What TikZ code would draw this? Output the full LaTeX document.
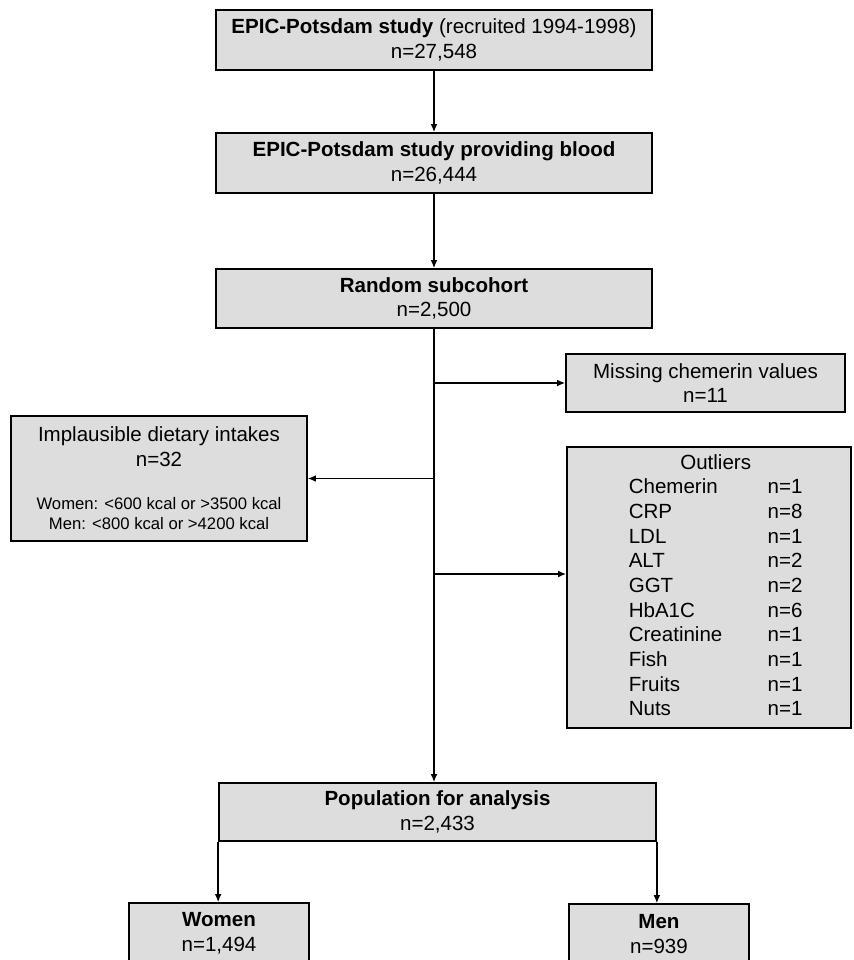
\documentclass[tikz,border=0pt]{standalone}
\usepackage{fontspec}
\setmainfont{Liberation Sans}
\usepackage{tikz}
\usetikzlibrary{arrows.meta,calc}
\definecolor{boxgray}{RGB}{221,221,221}
\tikzset{
    flowbox/.style args={#1/#2}{draw, line width=1.3pt, fill=boxgray, inner sep=0pt,
        minimum width=#1, minimum height=#2, align=center,
        font=\fontsize{15.4}{18.5}\selectfont},
    link/.style={->, line width=1pt}
}
\newcommand{\smalltxt}{\fontsize{12.5}{15}\selectfont}

\begin{document}
\begin{tikzpicture}[x=0.75pt, y=-0.75pt, >={Latex[length=6pt,width=5pt]}]
\useasboundingbox (0,0) rectangle (853,960);
% main column
\node[flowbox=327pt/45pt] (epic) at (434,40) {\textbf{EPIC-Potsdam study} (recruited 1994-1998)\\ n=27,548};
\node[flowbox=327pt/45pt] (blood) at (434,163) {\textbf{EPIC-Potsdam study providing blood}\\ n=26,444};
\node[flowbox=327pt/44.25pt] (subco) at (434,298.5) {\textbf{Random subcohort}\\ n=2,500};
% exclusions
\node[flowbox=209.25pt/43.5pt] (miss) at (705.5,383) {Missing chemerin values\\ n=11};
\node[flowbox=222pt/93.75pt] (impl) at (159,478.5) {Implausible dietary intakes\\ n=32\\[14pt]
    {\smalltxt Women: <600 kcal or >3500 kcal}\\[-3.5pt] {\smalltxt Men: <800 kcal or >4200 kcal}};
\node[flowbox=213pt/210.75pt] (outl) at (709,587.5) {%
    \begin{tabular}{@{\hspace{10pt}}l@{\hspace{34pt}}l@{}}
    \multicolumn{2}{c}{\hspace{10pt}Outliers}\\
    Chemerin & n=1\\ CRP & n=8\\ LDL & n=1\\ ALT & n=2\\ GGT & n=2\\
    HbA1C & n=6\\ Creatinine & n=1\\ Fish & n=1\\ Fruits & n=1\\ Nuts & n=1
    \end{tabular}};
% analysis
\node[flowbox=327.75pt/43.5pt] (pop) at (437.5,812) {\textbf{Population for analysis}\\ n=2,433};
\node[flowbox=135pt/45pt] (wom) at (219,933) {\textbf{Women}\\ n=1,494};
\node[flowbox=135pt/45pt] (men) at (659,934) {\textbf{Men}\\ n=939};

\draw[link] (epic) -- (blood);
\draw[link] (blood) -- (subco);
\draw[link] (subco.south) -- (subco.south |- pop.north);
\draw[link] (subco.south |- miss.west) -- (miss.west);
\draw[link] (subco.south |- impl.east) -- (impl.east);
\draw[link] (subco.south |- 0,574) -- (outl.west |- 0,574);
\draw[link] (pop.south west) -- (pop.south west |- wom.north);
\draw[link] (pop.south east) -- (pop.south east |- men.north);
\end{tikzpicture}
\end{document}
